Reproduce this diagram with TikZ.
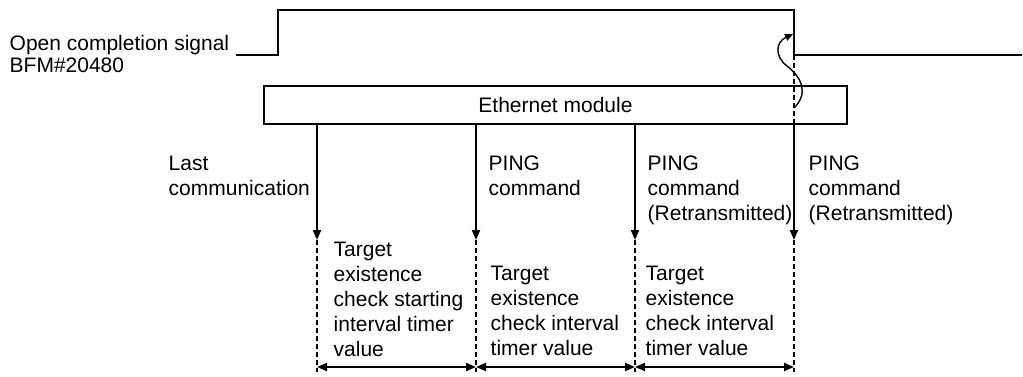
\documentclass[tikz,border=0pt]{standalone}
\usepackage{fontspec}
\setmainfont{Liberation Sans}
\usetikzlibrary{arrows.meta}

\begin{document}
\begin{tikzpicture}[x=0.5pt, y=-0.5pt, line width=0.7pt,
		txt/.style={align=left, inner sep=0pt, anchor=north west, font=\fontsize{10.5}{12.5}\selectfont},
		tip/.style={-{Triangle[length=5pt, width=4pt]}, line width=1pt},
		dim/.style={{Triangle[length=5pt, width=4pt]}-{Triangle[length=5pt, width=4pt]}, line width=1pt},
		dashline/.style={dash pattern=on 2.5pt off 1.5pt}]
		\useasboundingbox (0,0) rectangle (1023,376);

		% signal
		\node [txt, font=\fontsize{10.5}{11}\selectfont] (sig) at (9,35) {Open completion signal\\BFM\#20480};
		\coordinate (s0) at (236,55);
		\coordinate (s1) at (278,55);
		\coordinate (s2) at (278,10);
		\coordinate (s3) at (794,10);
		\coordinate (s4) at (794,55);
		\coordinate (s5) at (1022,55);
		\draw (s0) -- (s1) -- (s2) -- (s3) -- (s4) -- (s5);

		\node [draw, minimum width=291.5pt, minimum height=19pt, inner sep=0pt, font=\fontsize{10.5}{12.5}\selectfont] (eth) at (555.5,105) {Ethernet module};

		\coordinate (a1) at (317,240);
		\coordinate (a2) at (476,240);
		\coordinate (a3) at (635,240);
		\coordinate (a4) at (794,240);
		\coordinate (b1) at (317,372);
		\coordinate (b2) at (476,372);
		\coordinate (b3) at (635,372);
		\coordinate (b4) at (794,372);
		\coordinate (d1) at (317,367);
		\coordinate (d2) at (476,367);
		\coordinate (d3) at (635,367);
		\coordinate (d4) at (794,367);

		\draw [dashline] (s4) -- (eth.south -| a4);
		\draw [tip] (eth.south -| a1) -- (a1);
		\draw [tip] (eth.south -| a2) -- (a2);
		\draw [tip] (eth.south -| a3) -- (a3);
		\draw [tip] (eth.south -| a4) -- (a4);
		\draw [dashline] (a1) -- (b1);
		\draw [dashline] (a2) -- (b2);
		\draw [dashline] (a3) -- (b3);
		\draw [dashline] (a4) -- (b4);
		\draw [dim] (d1) -- (d2);
		\draw [dim] (d2) -- (d3);
		\draw [dim] (d3) -- (d4);

		% wavy arrow
		\coordinate (w0) at (794,108);
		\coordinate (w1) at (793,34);
		\draw [-{Triangle[length=4pt, width=3.5pt]}] (w0) .. controls (810,92) and (800,76) .. (787,66) .. controls (774,56) and (776,42) .. (w1);

		\node [txt] (last) at (168,155) {Last\\communication};
		\node [txt] (ping1) at (488,155) {PING\\command};
		\node [txt] (ping2) at (647,155) {PING\\command\\(Retransmitted)};
		\node [txt] (ping3) at (808,155) {PING\\command\\(Retransmitted)};

		\node [txt] (tv1) at (333,241) {Target\\existence\\check starting\\interval timer\\value};
		\node [txt] (tv2) at (490,265) {Target\\existence\\check interval\\timer value};
		\node [txt] (tv3) at (645,265) {Target\\existence\\check interval\\timer value};

	\end{tikzpicture}
\end{document}
